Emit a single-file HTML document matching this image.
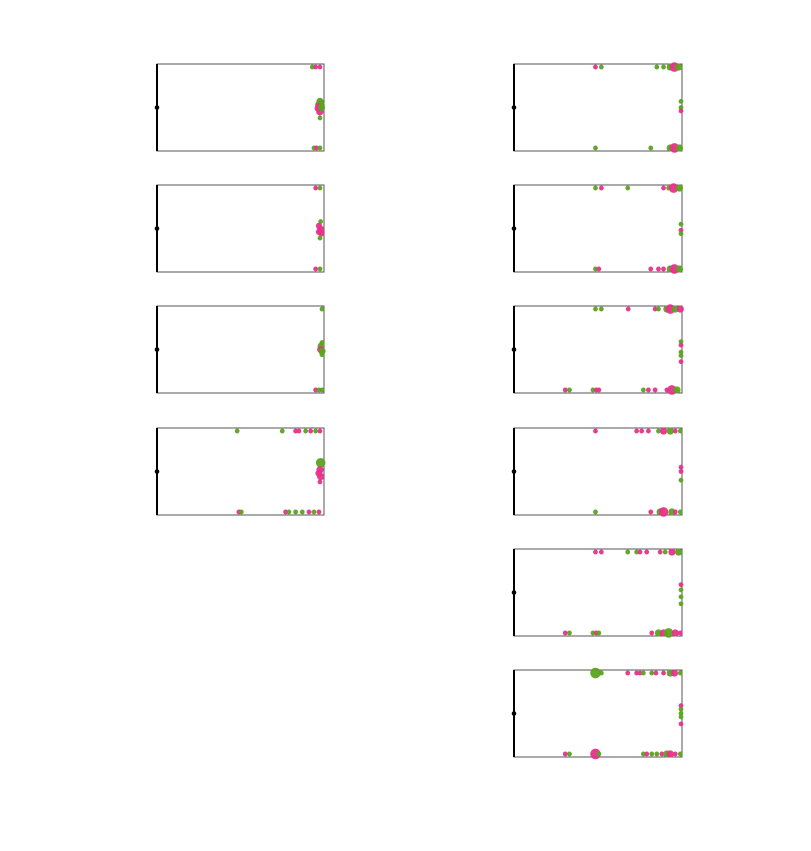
<!DOCTYPE html>
<html><head><meta charset="utf-8"><style>
html,body{margin:0;padding:0;background:#fff;}
svg{display:block;font-family:"Liberation Sans",sans-serif;}
</style></head><body>
<svg id="chart" width="811" height="851"></svg>
<script>
// panel data: each point [x(0-100), y(0-100), series(0=green,1=pink), size]
const panelOrigins = [[157,64],[157,185],[157,306],[157,428],[514,64],[514,185],[514,306],[514,428],[514,549],[514,670]];
const panelWidths = [167,167,167,167,168,168,168,168,168,168];
const panelL1 = [[93,96.5,0,1],[95,96.5,1,1],[97.6,96.5,1,1],[97.6,57,0,1.5],[97.6,53,0,2],[96.5,49,1,1.5],[97.5,45,1,1.5],[96.5,52,1,1.2],[98.5,50,0,1.5],[97.6,38,0,1],[94,3.5,0,1],[95.5,3.5,1,1],[97.6,3.5,0,1]];
const panelL2 = [[95,96.5,1,1],[97.6,96.5,0,1],[98,58,0,1],[97,53,1,1.3],[98,49,1,1.5],[97,46,1,1.3],[98.3,44,1,1.2],[97.6,39,0,1],[95,3.5,1,1],[97.6,3.5,0,1]];
const panelL3 = [[98.8,96.5,0,1],[98.8,58,0,1],[98.3,54,0,1.5],[98,50,1,1.5],[98.8,48,0,1.5],[98.8,44,0,1],[95,3.5,1,1],[97,3.5,0,1],[98.8,3.5,0,1]];
const panelL4 = [[48,96.5,0,1],[75,96.5,0,1],[83,96.5,1,1],[85,96.5,1,1],[89,96.5,0,1],[92,96.5,1,1],[95,96.5,0,1],[97.6,96.5,1,1],[98,60,0,2],[97.6,52,1,1.5],[97,48,1,1.5],[98,44,1,1.5],[97.6,38,1,1],[49,3.5,1,1],[50.5,3.5,0,1],[77,3.5,1,1],[79,3.5,0,1],[83,3.5,0,1],[87,3.5,0,1],[91,3.5,1,1],[94,3.5,0,1],[97,3.5,1,1]];
const panelR1 = [[48.5,96.5,1,1],[52,96.5,0,1],[85,96.5,0,1],[89,96.5,0,1],[93,96.5,0,1.5],[95.5,96.5,1,2],[98,96.5,0,1.5],[99.4,57,0,1],[99.4,50,0,1],[99.4,46,1,1],[48.5,3.5,0,1],[81.4,3.5,0,1],[93,3.5,0,1.5],[95.5,3.5,1,2],[98.5,3.5,0,1.5]];
const panelR2 = [[48.5,96.5,0,1],[52,96.5,1,1],[67.7,96.5,0,1],[89,96.5,1,1],[92,96.5,0,1],[95,96.5,1,2],[98.5,96.5,0,1.5],[99.4,55,0,1],[99.4,48,1,1],[99.4,44,0,1],[48.5,3.5,0,1],[50.5,3.5,1,1],[81.4,3.5,1,1],[86,3.5,1,1],[89,3.5,1,1],[93,3.5,0,1.5],[95.5,3.5,1,2],[98.5,3.5,0,1.5]];
const panelR3 = [[48.5,96.5,0,1],[52,96.5,0,1],[68,96.5,1,1],[84,96.5,1,1],[86,96.5,0,1],[91,96.5,0,1.5],[93,96.5,1,2],[96,96.5,0,1.5],[99,96.5,1,1.5],[99.4,59,0,1],[99.4,55,1,1],[99.4,47,0,1],[99.4,43,0,1],[99.4,36,1,1],[30.5,3.5,1,1],[33,3.5,0,1],[47,3.5,0,1],[49,3.5,1,1],[50.5,3.5,1,1],[77,3.5,0,1],[80,3.5,1,1],[84,3.5,1,1],[91,3.5,1,1],[94,3.5,1,2],[97,3.5,0,1.5]];
const panelR4 = [[48.5,96.5,1,1],[73,96.5,1,1],[76,96.5,1,1],[80,96.5,1,1],[86,96.5,0,1],[89,96.5,1,1.5],[93,96.5,0,1.5],[96,96.5,1,1],[99,96.5,0,1],[99.4,55,1,1],[99.4,50,1,1],[99.4,40,0,1],[48.5,3.5,0,1],[81.4,3.5,1,1],[87,3.5,0,1.5],[89,3.5,1,2],[94,3.5,0,1.5],[96,3.5,1,1],[99,3.5,0,1]];
const panelR5 = [[48.5,96.5,1,1],[52,96.5,1,1],[67.7,96.5,0,1],[73,96.5,0,1],[75,96.5,1,1],[79,96.5,1,1],[87,96.5,1,1],[90,96.5,0,1],[94,96.5,1,1.5],[98,96.5,0,1.5],[99.4,59,1,1],[99.4,53,0,1],[99.4,45,0,1],[99.4,37,0,1],[30.5,3.5,1,1],[33,3.5,0,1],[47,3.5,0,1],[49,3.5,1,1],[50.5,3.5,0,1],[82,3.5,1,1],[86,3.5,0,1.5],[89,3.5,1,1.5],[92,3.5,0,2],[96,3.5,1,1.5],[99,3.5,1,1]];
const panelR6 = [[48.5,96.5,0,2.2],[52,96.5,0,1],[67.7,96.5,1,1],[73,96.5,1,1],[75,96.5,1,1],[77,96.5,0,1],[82,96.5,0,1],[84.5,96.5,1,1],[89,96.5,1,1],[93,96.5,0,1.5],[95.5,96.5,1,1.5],[99,96.5,0,1],[99.4,59,1,1],[99.4,55,0,1],[99.4,50,0,1],[99.4,46,0,1],[99.4,38,1,1],[30.5,3.5,1,1],[33,3.5,0,1],[48.5,3.5,1,2.2],[50.5,3.5,0,1],[77,3.5,0,1],[79,3.5,1,1],[82,3.5,0,1],[85,3.5,0,1],[88,3.5,1,1],[91,3.5,0,1.5],[93,3.5,1,1.5],[96,3.5,1,1],[99,3.5,0,1]];
const panels = [panelL1,panelL2,panelL3,panelL4,panelR1,panelR2,panelR3,panelR4,panelR5,panelR6];
const seriesColors = ["#5ba31f","#e8308a"];

const NS="http://www.w3.org/2000/svg";
const svg=document.getElementById('chart');
const H=87;
function mk(tag,attrs){const e=document.createElementNS(NS,tag);for(const k in attrs)e.setAttribute(k,attrs[k]);return e;}
panels.forEach((pts,i)=>{
  const [x0,y0]=panelOrigins[i];
  const W=panelWidths[i];
  const sx=v=>x0+v/100*W, sy=v=>y0+H-v/100*H;
  const g=mk('g',{});
  
  
  const frame=mk('rect',{x:x0,y:y0,width:W,height:H,fill:'none',stroke:'#555','stroke-width':1});
  
  
  g.appendChild(frame);
  const ax=mk('line',{x1:x0,y1:y0,x2:x0,y2:y0+H,stroke:'#000','stroke-width':2});
  
  
  g.appendChild(ax);
  const d=mk('circle',{cx:x0,cy:y0+H/2,r:2.3,fill:'#000'});
  
  
  g.appendChild(d);
  pts.forEach(p=>{
    const c=mk('circle',{cx:sx(p[0]),cy:sy(p[1]),r:2.4*p[3],fill:seriesColors[p[2]],'fill-opacity':0.95});
    
    
    g.appendChild(c);
  });
  svg.appendChild(g);
});
</script>
</body></html>
